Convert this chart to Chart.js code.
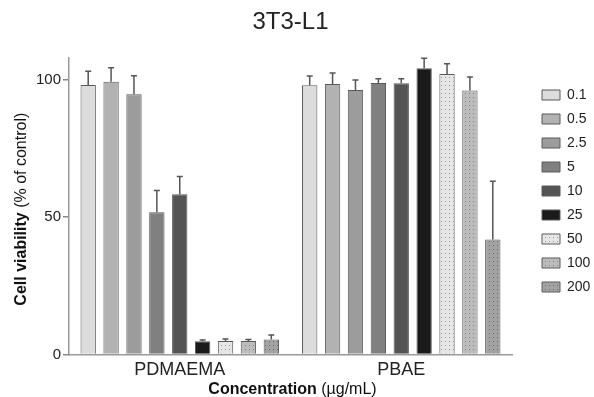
<!DOCTYPE html>
<html>
<head>
<meta charset="utf-8">
<script src="https://cdn.jsdelivr.net/npm/chart.js@4/dist/chart.umd.min.js"></script>
<style>
  html, body { margin: 0; padding: 0; background: #fff; }
  #wrap { width: 594px; height: 397px; }
</style>
</head>
<body>
<div id="wrap"><canvas id="c" width="594" height="397"></canvas></div>
<script>
// Polymers on the x axis
const groups = ['PDMAEMA', 'PBAE'];
// Concentrations in µg/mL (one series each)
const concentrations = ['0.1', '0.5', '2.5', '5', '10', '25', '50', '100', '200'];
// Cell viability (% of control), mean and SD, per concentration
const pdmaemaMean = [98.1, 99.3, 94.7, 51.8, 58.3, 4.8, 4.9, 4.9, 5.5];
const pdmaemaSD   = [5.0, 5.1, 6.8, 7.9, 6.5, 0.5, 0.7, 0.6, 1.6];
const pbaeMean    = [98.0, 98.5, 96.3, 98.8, 98.7, 104.2, 102.1, 96.1, 41.9];
const pbaeSD      = [3.4, 4.0, 3.6, 1.6, 1.7, 3.6, 3.7, 4.9, 21.2];
const yTicks = [0, 50, 100];

const FONT = "'Liberation Sans', Arial, sans-serif";

function dotted(base, dot) {
  const c = document.createElement('canvas');
  c.width = 4; c.height = 4;
  const g = c.getContext('2d');
  g.fillStyle = base; g.fillRect(0, 0, 4, 4);
  g.fillStyle = dot; g.fillRect(1, 1, 1, 1);
  return g.createPattern(c, 'repeat');
}

const fills = [
  '#dcdcdc', '#b2b2b2', '#9c9c9c', '#808080', '#545454', '#1a1a1a',
  dotted('#e6e6e6', '#9a9a9a'),
  dotted('#bcbcbc', '#808080'),
  dotted('#a2a2a2', '#6a6a6a')
];

const datasets = concentrations.map((label, i) => ({
  label,
  data: [pdmaemaMean[i], pbaeMean[i]],
  sd: [pdmaemaSD[i], pbaeSD[i]],
  backgroundColor: fills[i],
  borderColor: '#5a5a5a',
  borderWidth: 1,
  barPercentage: 0.67,
  categoryPercentage: 0.93
}));

// upward error bars with a small cap
const errorBars = {
  id: 'errorBars',
  afterDatasetsDraw(chart) {
    const ctx = chart.ctx;
    const ys = chart.scales.y;
    ctx.save();
    ctx.strokeStyle = '#555';
    ctx.lineWidth = 1.5;
    chart.data.datasets.forEach((ds, di) => {
      const meta = chart.getDatasetMeta(di);
      meta.data.forEach((bar, i) => {
        const x = bar.x;
        const y0 = ys.getPixelForValue(ds.data[i]);
        const y1 = ys.getPixelForValue(ds.data[i] + ds.sd[i]);
        ctx.beginPath();
        ctx.moveTo(x, y0);
        ctx.lineTo(x, y1);
        ctx.moveTo(x - 3, y1);
        ctx.lineTo(x + 3, y1);
        ctx.stroke();
      });
    });
    ctx.restore();
  }
};

// axis titles with a bold lead word followed by normal text
function mixedText(ctx, parts, cx, cy) {
  let total = 0;
  parts.forEach(p => { ctx.font = p.font; p.w = ctx.measureText(p.text).width; total += p.w; });
  let x = cx - total / 2;
  parts.forEach(p => { ctx.font = p.font; ctx.fillText(p.text, x, cy); x += p.w; });
}
const axisTitles = {
  id: 'axisTitles',
  afterDraw(chart) {
    const ctx = chart.ctx;
    const a = chart.chartArea;
    ctx.save();
    ctx.fillStyle = '#111';
    ctx.textBaseline = 'middle';
    ctx.textAlign = 'left';
    mixedText(ctx, [
      { text: 'Concentration', font: 'bold 16px ' + FONT },
      { text: ' (µg/mL)', font: '16px ' + FONT }
    ], (a.left + a.right) / 2 + 2, 390);
    ctx.translate(22, (a.top + a.bottom) / 2 + 3);
    ctx.rotate(-Math.PI / 2);
    mixedText(ctx, [
      { text: 'Cell viability', font: 'bold 16px ' + FONT },
      { text: ' (% of control)', font: '16px ' + FONT }
    ], 0, 0);
    ctx.restore();
  }
};

new Chart(document.getElementById('c'), {
  type: 'bar',
  data: { labels: groups, datasets },
  options: {
    responsive: false,
    animation: false,
    devicePixelRatio: 1,
    layout: { padding: { top: 0, left: 0, right: 0, bottom: 15 } },
    plugins: {
      title: {
        display: true,
        text: '3T3-L1',
        fullSize: false,
        color: '#222',
        font: { family: FONT, size: 24, weight: 'normal' },
        padding: { top: 8, bottom: 21 }
      },
      legend: {
        position: 'right',
        maxWidth: 62,
        labels: {
          boxWidth: 18,
          boxHeight: 10,
          padding: 10,
          color: '#222',
          font: { family: FONT, size: 14 }
        }
      },
      tooltip: { enabled: false }
    },
    scales: {
      x: {
        grid: { display: false, drawTicks: false },
        border: { display: true, color: '#999', width: 1.5 },
        ticks: { color: '#222', padding: 5, font: { family: FONT, size: 18 } },
        afterFit(s) { s.height = 27.5; }
      },
      y: {
        min: 0,
        max: 108,
        afterBuildTicks(s) { s.ticks = yTicks.map(v => ({ value: v })); },
        grid: { drawOnChartArea: false, drawTicks: true, tickLength: 6, color: '#888', lineWidth: 1.5 },
        border: { display: true, color: '#999', width: 1.5 },
        ticks: { color: '#222', padding: 2, font: { family: FONT, size: 15 } },
        afterFit(s) { s.width = 69; }
      },
      gap: {
        type: 'linear',
        position: 'right',
        display: true,
        grid: { display: false, drawTicks: false },
        border: { display: false },
        ticks: { display: false },
        afterFit(s) { s.width = 20; }
      }
    }
  },
  plugins: [errorBars, axisTitles]
});
</script>
</body>
</html>
